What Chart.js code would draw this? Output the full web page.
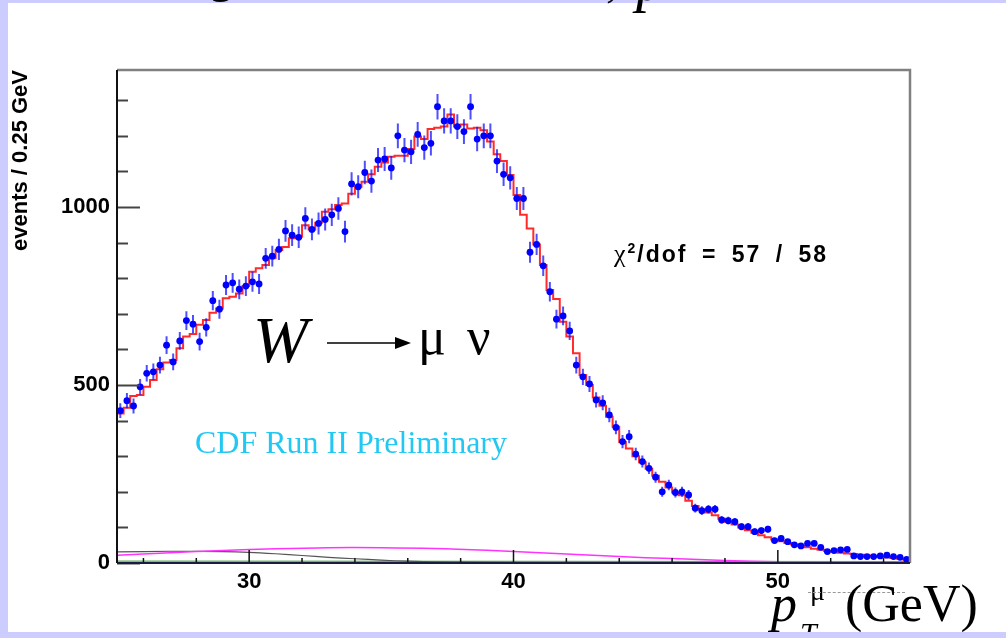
<!DOCTYPE html>
<html>
<head>
<meta charset="utf-8">
<script src="https://cdn.jsdelivr.net/npm/chart.js@4.4.1/dist/chart.umd.min.js"></script>
<style>
  html, body { margin: 0; padding: 0; width: 1006px; height: 638px; overflow: hidden; background: #ccccff; }
  #panel { position: absolute; left: 8px; top: 3px; width: 998px; height: 629px; background: #fff; }
  #c { position: absolute; left: 0; top: 0; }
  #ann { position: absolute; left: 0; top: 0; width: 1006px; height: 632px; overflow: hidden; }
  .t { position: absolute; white-space: nowrap; line-height: 1; }
  .serif { font-family: "Liberation Serif", "Times New Roman", serif; }
  .sans { font-family: "Liberation Sans", Arial, sans-serif; font-weight: bold; }
</style>
</head>
<body>
<div id="panel"></div>
<canvas id="c" width="1006" height="638"></canvas>
<div id="ann">
  <div class="t serif" style="left:253px;top:307px;font-size:66px;font-style:italic;">W</div>
  <svg style="position:absolute;left:325px;top:335px" width="90" height="16">
    <line x1="2" y1="8" x2="72" y2="8" stroke="#000" stroke-width="1.5"/>
    <polygon points="70,2 86,8 70,14" fill="#000"/>
  </svg>
  <div class="t serif" style="left:418px;top:311px;font-size:52px;">μ</div>
  <div class="t serif" style="left:467px;top:311px;font-size:52px;">ν</div>
  <div class="t serif" style="left:195px;top:426px;font-size:32px;color:#22c8f2;">CDF Run II Preliminary</div>
  <div class="t sans" style="left:614px;top:241px;font-size:23px;letter-spacing:2px;word-spacing:6px;"><span class="serif" style="font-weight:normal;font-size:26px;">χ</span><sup style="font-size:14px;">2</sup>/dof = 57 / 58</div>
  <div class="t serif" style="left:771px;top:578px;font-size:52px;font-style:italic;">p</div>
  <div class="t serif" style="left:800px;top:618px;font-size:30px;font-style:italic;">T</div>
  <div class="t serif" style="left:810px;top:577px;font-size:28px;">μ</div>
  <div style="position:absolute;left:808px;top:592px;width:97px;border-top:1px dashed #999;"></div>
  <div class="t serif" style="left:845px;top:578px;font-size:52px;">(GeV)</div>
</div>
<div class="t serif" style="left:209px;top:-48px;font-size:48px;">g</div>
<div class="t serif" style="left:606px;top:-44px;font-size:48px;">,</div>
<div class="t serif" style="left:636px;top:-50px;font-size:60px;font-style:italic;">p</div>

<script>
// binning: 0.25 GeV bins from 25 to 55 GeV
const binLow = 25;
const binWidth = 0.25;

// measured events per bin (blue points)
const dataCounts = [
  428, 456, 441, 495, 533, 537, 556, 612, 565, 624,
  681, 671, 622, 662, 737, 713, 781, 787, 769, 778,
  790, 784, 856, 862, 881, 933, 921, 915, 968, 937,
  954, 965, 978, 996, 931, 1065, 1057, 1097, 1073, 1132,
  1135, 1110, 1200, 1160, 1155, 1204, 1167, 1179, 1282, 1242,
  1242, 1226, 1212, 1282, 1191, 1200, 1200, 1129, 1092, 1082,
  1024, 1024, 873, 895, 835, 762, 685, 694, 652, 556,
  523, 503, 458, 450, 416, 381, 341, 355, 306, 285,
  266, 241, 200, 219, 198, 200, 191, 154, 147, 151,
  151, 121, 119, 116, 102, 102, 88, 91, 95, 63,
  69, 60, 51, 48, 55, 55, 44, 32, 35, 37,
  38, 20, 18, 18, 18, 20, 22, 18, 16, 10
];

// simulation histogram (red)
const modelCounts = [
  420, 436, 469, 472, 495, 514, 544, 563, 570, 603,
  636, 643, 669, 683, 703, 715, 744, 748, 757, 778,
  818, 828, 837, 856, 879, 888, 912, 917, 949, 937,
  956, 987, 994, 1006, 1010, 1037, 1057, 1071, 1092, 1113,
  1125, 1141, 1144, 1144, 1163, 1198, 1191, 1219, 1223, 1226,
  1260, 1226, 1232, 1221, 1223, 1216, 1184, 1148, 1129, 1090,
  1034, 978, 940, 895, 837, 767, 742, 678, 636, 589,
  528, 500, 465, 442, 411, 383, 340, 322, 300, 283,
  265, 245, 228, 212, 198, 190, 175, 160, 150, 142,
  134, 124, 116, 108, 100, 92, 85, 78, 72, 66,
  61, 56, 52, 48, 44, 40, 37, 34, 32, 29,
  27, 25, 23, 21, 19, 18, 16, 14, 12, 9
];

// backgrounds
const pinkX = [25, 27, 29, 31, 33, 35, 37, 39, 41, 43, 45, 47, 49, 51, 53, 55];
const pinkY = [22, 29, 35, 40, 43, 43, 41, 36, 29, 22, 15, 10, 5, 2, 1, 0];
const grayX = [25, 27, 29, 30, 31, 32, 33, 34, 35, 36, 37, 39, 42, 55];
const grayY = [31, 33, 32, 30, 26, 21, 16, 12, 8, 5, 3, 2, 1, 1];
const greenX = [25, 55];
const greenY = [5, 4];

// axes
const xTickValues = [26, 28, 30, 32, 34, 36, 38, 40, 42, 44, 46, 48, 50, 52, 54];
const xLabelValues = [30, 40, 50];
const yTickValues = [0, 100, 200, 300, 400, 500, 600, 700, 800, 900, 1000, 1100, 1200, 1300];
const yLabelValues = [0, 500, 1000];

const dataPoints = dataCounts.map((v, i) => ({ x: binLow + binWidth * (i + 0.5), y: v }));
const modelPoints = modelCounts.map((v, i) => ({ x: binLow + binWidth * i, y: v }));
modelPoints.push({ x: binLow + binWidth * modelCounts.length, y: modelCounts[modelCounts.length - 1] });

const toXY = (xs, ys) => xs.map((x, i) => ({ x: x, y: ys[i] }));

// poisson error bars on the points
const errorBars = {
  id: "errorBars",
  beforeDatasetDraw(chart, args) {
    if (args.index !== 0) return;
    const { ctx, scales: { y } } = chart;
    const meta = chart.getDatasetMeta(0);
    ctx.save();
    ctx.strokeStyle = "rgba(20, 20, 255, 0.75)";
    ctx.lineWidth = 2;
    meta.data.forEach((pt, i) => {
      const err = Math.sqrt(dataCounts[i]);
      ctx.beginPath();
      ctx.moveTo(pt.x, y.getPixelForValue(dataCounts[i] + err));
      ctx.lineTo(pt.x, y.getPixelForValue(dataCounts[i] - err));
      ctx.moveTo(pt.x - 3, pt.y);
      ctx.lineTo(pt.x + 3, pt.y);
      ctx.stroke();
    });
    ctx.restore();
  },
};

// ROOT style frame with ticks inside
const frameTicks = {
  id: "frameTicks",
  afterDatasetsDraw(chart) {
    const { ctx, chartArea: a, scales: { x, y } } = chart;
    ctx.save();
    ctx.strokeStyle = "#444";
    ctx.lineWidth = 2;
    yTickValues.forEach((v) => {
      const py = Math.round(y.getPixelForValue(v)) + 0.5;
      const len = yLabelValues.includes(v) ? 23 : 11;
      ctx.beginPath();
      ctx.moveTo(a.left, py);
      ctx.lineTo(a.left + len, py);
      ctx.stroke();
    });
    ctx.strokeStyle = "#111";
    ctx.lineWidth = 1.5;
    xTickValues.forEach((v) => {
      const px = x.getPixelForValue(v);
      const len = xLabelValues.includes(v) ? 13 : 5;
      ctx.beginPath();
      ctx.moveTo(px, a.bottom);
      ctx.lineTo(px, a.bottom - len);
      ctx.stroke();
    });
    // frame
    ctx.lineWidth = 2.5;
    ctx.strokeStyle = "#808080";
    ctx.beginPath();
    ctx.moveTo(a.left, a.top);
    ctx.lineTo(a.right, a.top);
    ctx.lineTo(a.right, a.bottom);
    ctx.stroke();
    ctx.lineWidth = 2;
    ctx.strokeStyle = "#1c1c40";
    ctx.beginPath();
    ctx.moveTo(a.right, a.bottom);
    ctx.lineTo(a.left, a.bottom);
    ctx.stroke();
    ctx.strokeStyle = "#111";
    ctx.beginPath();
    ctx.moveTo(a.left, a.bottom);
    ctx.lineTo(a.left, a.top);
    ctx.stroke();
    ctx.restore();
  },
};

const tickFont = { family: "'Liberation Sans', Arial, sans-serif", size: 22, weight: "bold" };

new Chart(document.getElementById("c"), {
  type: "scatter",
  data: {
    datasets: [
      {
        data: dataPoints,
        showLine: false,
        pointRadius: 3.4,
        pointBackgroundColor: "#0000ff",
        pointBorderWidth: 0,
      },
      {
        type: "line",
        data: modelPoints,
        stepped: true,
        borderColor: "rgba(255, 20, 20, 0.9)",
        borderWidth: 2,
        pointRadius: 0,
        fill: false,
      },
      {
        type: "line",
        data: toXY(pinkX, pinkY),
        borderColor: "#ff33ff",
        borderWidth: 1.5,
        tension: 0.4,
        pointRadius: 0,
      },
      {
        type: "line",
        data: toXY(grayX, grayY),
        borderColor: "#555555",
        borderWidth: 1.2,
        tension: 0.3,
        pointRadius: 0,
      },
      {
        type: "line",
        data: toXY(greenX, greenY),
        borderColor: "#5a5",
        borderWidth: 1.2,
        pointRadius: 0,
      },
    ],
  },
  options: {
    responsive: false,
    animation: false,
    events: [],
    layout: { padding: { left: 0, top: 70, right: 96, bottom: 0 } },
    plugins: { legend: { display: false }, tooltip: { enabled: false } },
    scales: {
      x: {
        type: "linear",
        min: 25,
        max: 55,
        afterBuildTicks: (s) => { s.ticks = xTickValues.map((v) => ({ value: v })); },
        afterFit: (s) => { s.height = 75; },
        grid: { display: false, drawTicks: false },
        border: { display: false },
        ticks: {
          autoSkip: false,
          maxRotation: 0,
          padding: 6,
          color: "#000",
          font: tickFont,
          callback: (v) => (xLabelValues.includes(v) ? String(v) : ""),
        },
      },
      y: {
        min: 0,
        max: 1385,
        afterBuildTicks: (s) => { s.ticks = yTickValues.map((v) => ({ value: v })); },
        afterFit: (s) => { s.width = 117; },
        grid: { display: false, drawTicks: false },
        border: { display: false },
        ticks: {
          autoSkip: false,
          padding: 7,
          color: "#000",
          font: tickFont,
          callback: (v) => (yLabelValues.includes(v) ? String(v) : ""),
        },
        title: {
          display: true,
          text: "events / 0.25 GeV",
          align: "end",
          color: "#000",
          padding: { top: 8 },
          font: { family: "'Liberation Sans', Arial, sans-serif", size: 22, weight: "bold" },
        },
      },
    },
  },
  plugins: [errorBars, frameTicks],
});
</script>
</body>
</html>
